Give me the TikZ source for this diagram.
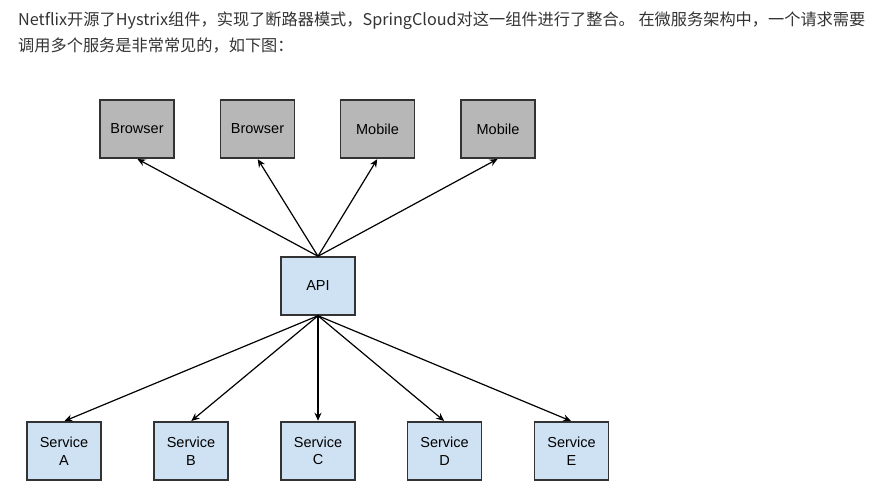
\documentclass[tikz,border=0pt]{standalone}
\usepackage{fontspec}
\setmainfont{Liberation Sans}
\newfontfamily\cjk{Noto Sans CJK SC}
\usetikzlibrary{arrows.meta}
\definecolor{boxgrey}{HTML}{B7B7B7}
\definecolor{boxblue}{HTML}{CFE2F3}
\definecolor{edge}{HTML}{333333}
\definecolor{para}{HTML}{333333}
\tikzset{
  client/.style={draw=edge,line width=1.5pt,fill=boxgrey,minimum width=74pt,minimum height=58pt,font=\fontsize{14.5pt}{17.5pt}\selectfont,align=center,inner sep=0pt},
  svc/.style={client,fill=boxblue},
  link/.style={-{Stealth[length=8pt,width=7pt]},line width=1.2pt,black,shorten >=0.5pt}
}

\begin{document}
\begin{tikzpicture}[x=1pt,y=-1pt]
            \useasboundingbox (0,0) rectangle (893,495);
            % text above the picture
            \node[anchor=base west,inner sep=0pt,text=para,font=\cjk\fontsize{16.2pt}{20pt}\selectfont] (line1) at (18,26)
                {Netflix开源了Hystrix组件，实现了断路器模式，SpringCloud对这一组件进行了整合。 在微服务架构中，一个请求需要};
            \node[anchor=base west,inner sep=0pt,text=para,font=\cjk\fontsize{16.2pt}{20pt}\selectfont] (line2) at (18,52)
                {调用多个服务是非常常见的，如下图：};
            % clients
            \node[client] (b1) at (137,129) {Browser};
            \node[client] (b2) at (257.5,129) {Browser};
            \node[client] (m1) at (377.5,129) {Mobile};
            \node[client] (m2) at (498,129) {Mobile};
            % gateway
            \node[svc] (api) at (318,286) {API};
            % services
            \node[svc] (sa) at (64,451) {Service\\A};
            \node[svc] (sb) at (191,451) {Service\\B};
            \node[svc] (sc) at (318,451) {Service\\C};
            \node[svc] (sd) at (444.5,451) {Service\\D};
            \node[svc] (se) at (571.5,451) {Service\\E};
            \draw[link] (api.north) -- (b1.south);
            \draw[link] (api.north) -- (b2.south);
            \draw[link] (api.north) -- (m1.south);
            \draw[link] (api.north) -- (m2.south);
            \draw[link] (api.south) -- (sa.north);
            \draw[link] (api.south) -- (sb.north);
            \draw[link] (api.south) -- (sc.north);
            \draw[link] (api.south) -- (sd.north);
            \draw[link] (api.south) -- (se.north);
        \end{tikzpicture}
\end{document}
